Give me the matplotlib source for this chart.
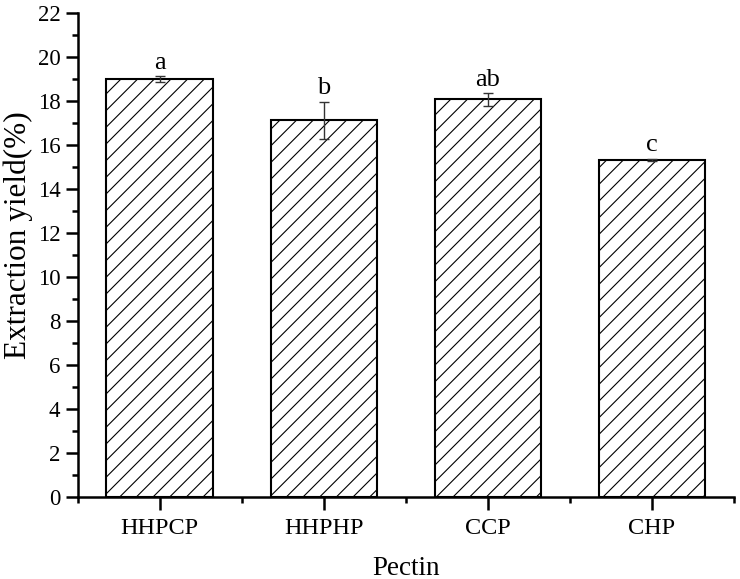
import matplotlib
matplotlib.use("Agg")
import matplotlib.pyplot as plt
import numpy as np
from matplotlib.ticker import MultipleLocator, FixedLocator

categories = ["HHPCP", "HHPHP", "CCP", "CHP"]
yield_pct = [19.0, 17.12, 18.07, 15.33]
yield_err = [0.14, 0.85, 0.30, 0.05]
sig_letters = ["a", "b", "ab", "c"]

plt.rcParams["font.family"] = ["Liberation Serif", "DejaVu Serif"]
plt.rcParams["hatch.linewidth"] = 0.8

fig = plt.figure(figsize=(7.4, 5.79), dpi=100)
ax = fig.add_axes([0.105, 0.1416, 0.887, 0.836])

x = np.arange(len(categories))
ax.bar(x, yield_pct, width=0.65, color="white", edgecolor="black",
       linewidth=1.5, hatch="//", zorder=2)
ax.errorbar(x, yield_pct, yerr=yield_err, fmt="none", ecolor="#333333",
            elinewidth=1.0, capsize=3.5, capthick=1.0, zorder=3)

for xi, val, err, lab in zip(x, yield_pct, yield_err, sig_letters):
    ax.text(xi, val + err + 0.1, lab, ha="center", va="bottom", fontsize=19)

ax.set_xlim(-0.5, 3.5)
ax.set_ylim(0, 22)
ax.set_xticks(x)
ax.set_xticklabels(categories)
ax.xaxis.set_minor_locator(FixedLocator([-0.5, 0.5, 1.5, 2.5, 3.5]))
ax.yaxis.set_major_locator(MultipleLocator(2))
ax.yaxis.set_minor_locator(MultipleLocator(1))

ax.spines["top"].set_visible(False)
ax.spines["right"].set_visible(False)
for side in ("left", "bottom"):
    ax.spines[side].set_linewidth(1.8)

ax.tick_params(axis="both", which="major", direction="out", length=9,
               width=1.8, labelsize=16.5)
ax.tick_params(axis="both", which="minor", direction="out", length=4.5,
               width=1.8)
ax.tick_params(axis="x", which="major", pad=6, labelsize=17.5)

ax.set_xlabel("Pectin", fontsize=19.5, labelpad=12)
ax.set_ylabel("Extraction yield(%)", fontsize=22.5)
ax.yaxis.set_label_coords(-0.068, 0.541)

fig.savefig("out.png", dpi=100)
